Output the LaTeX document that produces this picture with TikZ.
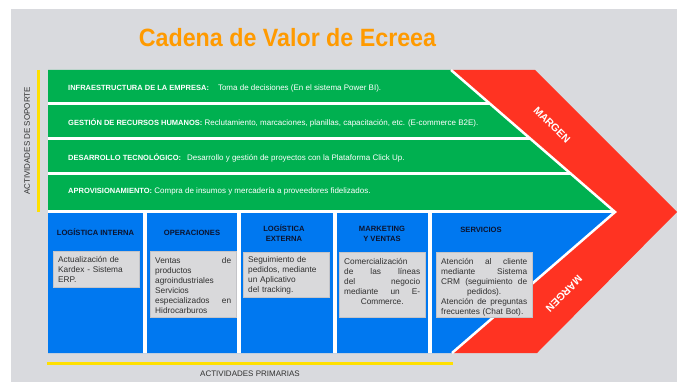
\documentclass[tikz,border=0pt]{standalone}
\usepackage{fontspec}
\setmainfont{Liberation Sans}
\usepackage{graphicx}
\definecolor{bgc}{HTML}{D9DADE}
\definecolor{grn}{HTML}{00B050}
\definecolor{blu}{HTML}{0078F0}
\definecolor{redc}{HTML}{FF3322}
\definecolor{orng}{HTML}{FF9A00}
\definecolor{ylw}{HTML}{FFE000}
\definecolor{boxfill}{HTML}{D9D9DB}
\definecolor{boxedge}{HTML}{C4C4C8}
\definecolor{boxtxt}{HTML}{303030}
\definecolor{hdrc}{HTML}{0B1430}
\definecolor{sidec}{HTML}{303030}
\newcommand{\jlx}[1]{\noindent\hbox to\hsize{#1}\par}
\newcommand{\llx}[1]{\noindent\hbox to\hsize{#1\hfil}\par}
\newcommand{\clx}[1]{\noindent\hbox to\hsize{\hfil#1\hfil}\par}
\begin{document}
\begin{tikzpicture}[x=1pt,y=-1pt,
  rowtext/.style={anchor=base west, inner sep=0, text=white, font=\fontsize{8}{10}\selectfont},
  boxtext/.style={anchor=base west, inner sep=0, text=boxtxt, font=\fontsize{8.3}{10}\selectfont, text width=#1},
  hdr/.style={inner sep=0, text=hdrc, font=\bfseries\fontsize{7.6}{10}\selectfont, align=center},
  gbox/.style={anchor=north west, inner sep=0, fill=boxfill, draw=boxedge, line width=0.6pt},
  marg/.style={inner sep=0, text=white, font=\bfseries\fontsize{10.5}{12}\selectfont},
  side/.style={inner sep=0, text=sidec, font=\fontsize{8}{10}\selectfont},
  wline/.style={draw=white, line width=3pt},
  yl/.style={draw=ylw, line width=3pt}]
\useasboundingbox (0,0) rectangle (682,382);
\fill[white] (0,0) rectangle (682,382);
\fill[bgc] (11,9) rectangle (677,382);

% title
\node[anchor=base, inner sep=0, text=orng, font=\bfseries\fontsize{25}{30}\selectfont] (title) at (287.5,47) {\scalebox{0.93}[1]{Cadena de Valor de Ecreea}};

% red chevron
\fill[redc] (451,70) -- (535,70) -- (677,212) -- (537,353) -- (452,353) -- (615,212) -- cycle;
% green and blue
\fill[grn] (48,70) -- (451,70) -- (615,212) -- (48,212) -- cycle;
\fill[blu] (48,212) -- (615,212) -- (452,353) -- (48,353) -- cycle;

% white separators
\begin{scope}
\clip (48,70) -- (451,70) -- (615,212) -- (452,353) -- (48,353) -- cycle;
\draw[wline] (40,103.5) -- (640,103.5);
\draw[wline] (40,138.5) -- (640,138.5);
\draw[wline] (40,173.5) -- (640,173.5);
\draw[wline] (40,211.5) -- (640,211.5);
\draw[wline, line width=3.5pt] (145,211) -- (145,360);
\draw[wline, line width=3.5pt] (239,211) -- (239,360);
\draw[wline, line width=3.5pt] (335,211) -- (335,360);
\draw[wline, line width=3.5pt] (430,211) -- (430,360);
\end{scope}
\draw[draw=white, line width=2.5pt, line join=miter] (451,70) -- (615,212) -- (452,353);

% support rows
\node[rowtext] (r1) at (68,90.5) {{\bfseries\fontsize{7.5}{10}\selectfont INFRAESTRUCTURA DE LA EMPRESA:}\hspace{9pt}Toma de decisiones (En el sistema Power BI).};
\node[rowtext] (r2) at (68,125.5) {{\bfseries\fontsize{7.5}{10}\selectfont GESTIÓN DE RECURSOS HUMANOS:} Reclutamiento, marcaciones, planillas, capacitación, etc. (E-commerce B2E).};
\node[rowtext] (r3) at (68,161) {{\bfseries\fontsize{7.5}{10}\selectfont DESARROLLO TECNOLÓGICO:}\hspace{6pt}Desarrollo y gestión de proyectos con la Plataforma Click Up.};
\node[rowtext] (r4) at (68,193.5) {{\bfseries\fontsize{7.5}{10}\selectfont APROVISIONAMIENTO:} Compra de insumos y mercadería a proveedores fidelizados.};

% primary headers
\node[hdr, anchor=base] (h1) at (95.5,235.7) {LOGÍSTICA INTERNA};
\node[hdr, anchor=base] (h2) at (192,235.7) {OPERACIONES};
\node[hdr] (h3) at (284,233.5) {LOGÍSTICA\\EXTERNA};
\node[hdr] (h4) at (382,233.5) {MARKETING\\Y VENTAS};
\node[hdr, anchor=base] (h5) at (481,232.7) {SERVICIOS};

% boxes
\node[gbox, minimum width=86, minimum height=36] (b1) at (53,251) {};
\node[gbox, minimum width=86, minimum height=66] (b2) at (150,251) {};
\node[gbox, minimum width=86, minimum height=45] (b3) at (243,252) {};
\node[gbox, minimum width=86, minimum height=65] (b4) at (339,252) {};
\node[gbox, minimum width=96, minimum height=65] (b5) at (436,252) {};

\node[boxtext=76pt] (t1) at (58,262) {\llx{Actualización de}\llx{Kardex - Sistema}\llx{ERP.}};
\node[boxtext=76pt] (t2) at (155,263) {\jlx{Ventas\hfill de}\llx{productos}\llx{agroindustriales}\llx{Servicios}\jlx{especializados\hfill en}\llx{Hidrocarburos}};
\node[boxtext=76pt] (t3) at (248,262) {\llx{Seguimiento de}\llx{pedidos, mediante}\llx{un Aplicativo}\llx{del tracking.}};
\node[boxtext=76pt] (t4) at (344,264) {\llx{Comercialización}\jlx{de\hfill las\hfill líneas}\jlx{del\hfill negocio}\jlx{mediante\hfill un\hfill E-}\clx{Commerce.}};
\node[boxtext=86pt] (t5) at (441,264) {\jlx{Atención\hfill al\hfill cliente}\jlx{mediante\hfill Sistema}\jlx{CRM\hfill (seguimiento\hfill de}\clx{pedidos).}\jlx{Atención\hfill de\hfill preguntas}\llx{frecuentes (Chat Bot).}};

% margin labels
\node[marg, rotate=-45] (m1) at (552,125) {MARGEN};
\node[marg, rotate=-135] (m2) at (564,294) {MARGEN};

% yellow lines and side labels
\coordinate (ys1) at (38,70);
\coordinate (ys2) at (38,212);
\coordinate (yp1) at (47,363);
\coordinate (yp2) at (453,363);
\draw[yl] (ys1) -- (ys2);
\draw[yl] (yp1) -- (yp2);
\node[side, rotate=90] (sl) at (27,141) {ACTIVIDADES DE SOPORTE};
\node[side] (pl) at (250,374) {ACTIVIDADES PRIMARIAS};
\end{tikzpicture}
\end{document}
